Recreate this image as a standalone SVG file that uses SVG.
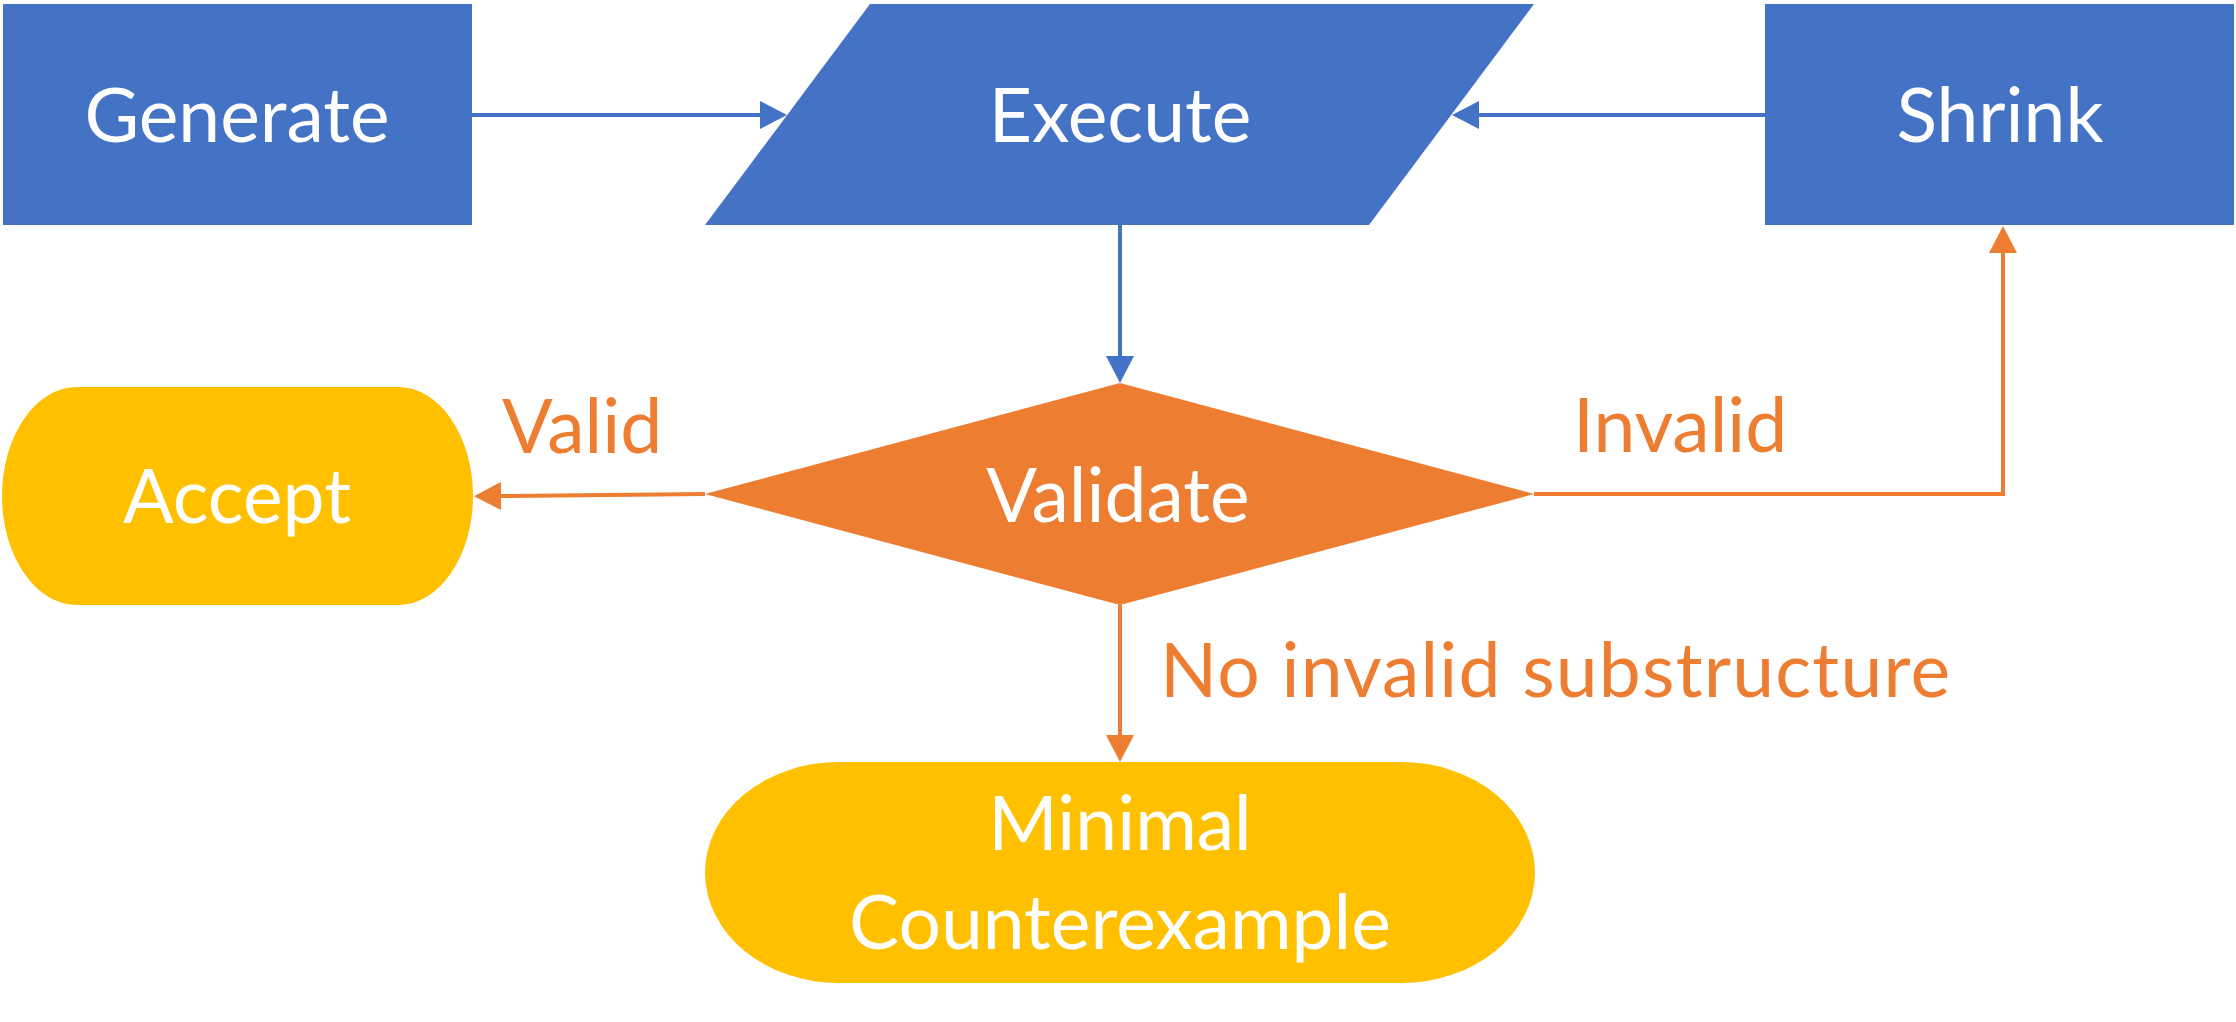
<svg xmlns="http://www.w3.org/2000/svg" width="2236" height="1022" viewBox="0 0 2236 1022">
  <style>
    .blue { fill: #4472C4; }
    .orange { fill: #ED7D31; }
    .gold { fill: #FFC000; }
    .lbl { font-family: Lato, "Open Sans", "Liberation Sans", sans-serif; font-size: 75px; fill: #FFFFFF; text-anchor: middle; }
    .elbl { font-family: Lato, "Open Sans", "Liberation Sans", sans-serif; font-size: 75px; fill: #ED7D31; }
    .cb { fill: none; stroke: #4472C4; stroke-width: 4; }
    .co { fill: none; stroke: #ED7D31; stroke-width: 4; }
  </style>
  <defs>
    <marker id="hb" markerUnits="userSpaceOnUse" markerWidth="28" markerHeight="28" refX="0" refY="14" orient="auto" overflow="visible">
      <path d="M0,0 L27,14 L0,28 Z" fill="#4472C4"/>
    </marker>
    <marker id="ho" markerUnits="userSpaceOnUse" markerWidth="28" markerHeight="28" refX="0" refY="14" orient="auto" overflow="visible">
      <path d="M0,0 L27,14 L0,28 Z" fill="#ED7D31"/>
    </marker>
  </defs>
  <rect width="2236" height="1022" fill="#FFFFFF"/>

  <g id="connectors">
    <path class="cb" d="M472,115 H760" marker-end="url(#hb)"/>
    <path class="cb" d="M1765,115 H1479" marker-end="url(#hb)"/>
    <path class="cb" d="M1120,225 V356" marker-end="url(#hb)"/>
    <path class="co" d="M705,494 L501,496" marker-end="url(#ho)"/>
    <path class="co" d="M1534,494 H2003 V253" marker-end="url(#ho)"/>
    <path class="co" d="M1120,605 V735" marker-end="url(#ho)"/>
    <text class="elbl" x="502" y="453">Valid</text>
    <text class="elbl" x="1573" y="452">Invalid</text>
    <text class="elbl" x="1160" y="697" textLength="790" lengthAdjust="spacing">No invalid substructure</text>
  </g>

  <g id="generate">
    <rect class="blue" x="3" y="4" width="469" height="221"/>
    <text class="lbl" x="237" y="142">Generate</text>
  </g>
  <g id="execute">
    <polygon class="blue" points="870,4 1534,4 1369,225 705,225"/>
    <text class="lbl" x="1120" y="142">Execute</text>
  </g>
  <g id="shrink">
    <rect class="blue" x="1765" y="4" width="469" height="221"/>
    <text class="lbl" x="2000" y="142">Shrink</text>
  </g>
  <g id="validate">
    <polygon class="orange" points="1120,383 1534,494 1120,605 705,494"/>
    <text class="lbl" x="1118" y="522">Validate</text>
  </g>
  <g id="accept">
    <rect class="gold" x="2" y="387" width="471" height="218" rx="75" ry="109"/>
    <text class="lbl" x="237" y="523">Accept</text>
  </g>
  <g id="minimal">
    <rect class="gold" x="705" y="762" width="830" height="221" rx="134" ry="110.5"/>
    <text class="lbl" x="1120" y="850">Minimal</text>
    <text class="lbl" x="1120" y="949">Counterexample</text>
  </g>
</svg>
